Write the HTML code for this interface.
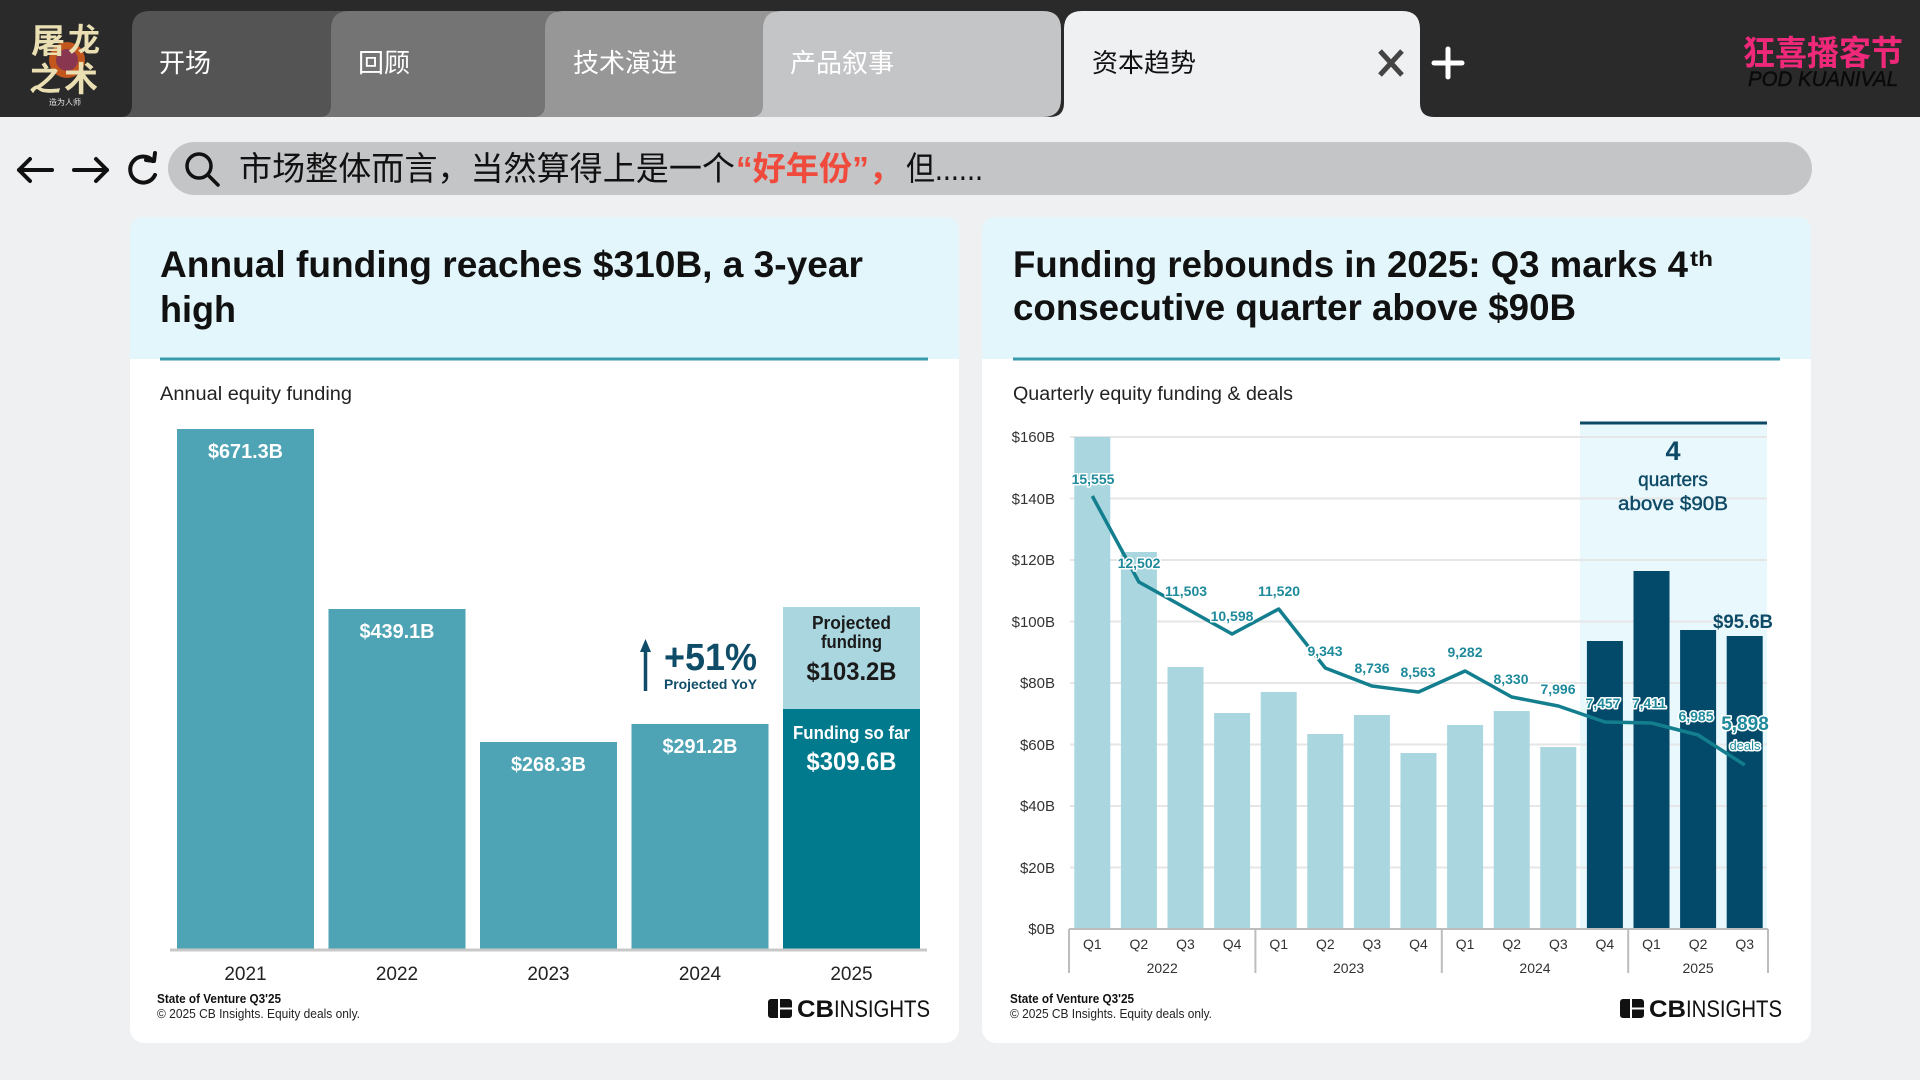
<!DOCTYPE html>
<html><head><meta charset="utf-8"><style>
html,body{margin:0;padding:0;background:#eff0f2;}
svg{display:block;}
text{font-family:"Liberation Sans","Noto Sans CJK SC",sans-serif;}
.cjk{font-family:"Liberation Sans","Noto Sans CJK SC",sans-serif;}
</style></head><body>
<svg width="1920" height="1080" viewBox="0 0 1920 1080" xmlns="http://www.w3.org/2000/svg">
<!-- backgrounds -->
<rect x="0" y="0" width="1920" height="1080" fill="#eff0f2"/>
<rect x="0" y="0" width="1920" height="117" fill="#2a2a2a"/>

<!-- left logo -->
<circle cx="67" cy="60" r="18" fill="#c2561c"/>
<circle cx="67" cy="60" r="11" fill="#7b2e5e" opacity="0.8"/>
<text x="31" y="53" font-size="34" font-weight="bold" fill="#e9dfb2" class="cjk">屠</text>
<text x="68" y="51" font-size="32" font-weight="bold" fill="#e9dfb2" class="cjk">龙</text>
<text x="29" y="90" font-size="32" font-weight="bold" fill="#e9dfb2" class="cjk">之</text>
<text x="64" y="91" font-size="34" font-weight="bold" fill="#e9dfb2" class="cjk">术</text>
<text x="65" y="105" font-size="8" fill="#e6e6e6" text-anchor="middle" class="cjk">造为人师</text>

<!-- tabs -->
<path d="M120,117 Q132,117 132,105 L132,29 Q132,11 150,11 L342,11 Q360,11 360,29 L360,117 Z" fill="#545454"/>
<path d="M319,117 Q331,117 331,105 L331,29 Q331,11 349,11 L552,11 Q570,11 570,29 L570,117 Z" fill="#747474"/>
<path d="M533,117 Q545,117 545,105 L545,29 Q545,11 563,11 L772,11 Q790,11 790,29 L790,117 Z" fill="#979797"/>
<path d="M751,117 Q763,117 763,105 L763,29 Q763,11 781,11 L1043,11 Q1061,11 1061,29 L1061,99 Q1061,117 1043,117 Z" fill="#c4c5c7"/>
<path d="M1050,117 Q1064,117 1064,103 L1064,29 Q1064,11 1082,11 L1402,11 Q1420,11 1420,29 L1420,103 Q1420,117 1434,117 Z" fill="#eff0f2"/>

<text x="159" y="72" font-size="26" fill="#ffffff" class="cjk">开场</text>
<text x="358" y="72" font-size="26" fill="#ffffff" class="cjk">回顾</text>
<text x="573" y="72" font-size="26" fill="#ffffff" class="cjk">技术演进</text>
<text x="790" y="72" font-size="26" fill="#ffffff" class="cjk">产品叙事</text>
<text x="1092" y="72" font-size="26" fill="#111111" class="cjk">资本趋势</text>

<!-- close & plus -->
<line x1="1380" y1="51" x2="1402" y2="75" stroke="#444" stroke-width="5"/>
<line x1="1402" y1="51" x2="1380" y2="75" stroke="#444" stroke-width="5"/>
<line x1="1448" y1="49" x2="1448" y2="77" stroke="#fff" stroke-width="5" stroke-linecap="round"/>
<line x1="1434" y1="63" x2="1462" y2="63" stroke="#fff" stroke-width="5" stroke-linecap="round"/>

<!-- right logo -->
<text x="1743" y="65" font-size="34" font-weight="bold" fill="#f0287a" textLength="160" lengthAdjust="spacingAndGlyphs" class="cjk">狂喜播客节</text>
<text x="1748" y="86" font-size="21" font-style="italic" fill="#0a0a0a" stroke="#0a0a0a" stroke-width="0.5" textLength="150" lengthAdjust="spacingAndGlyphs">POD KUANIVAL</text>

<!-- nav icons -->
<g stroke="#111" stroke-width="4" fill="none" stroke-linecap="round" stroke-linejoin="round">
  <line x1="19" y1="170" x2="52" y2="170"/>
  <polyline points="30,159 19,170 30,181"/>
  <line x1="74" y1="170" x2="107" y2="170"/>
  <polyline points="96,159 107,170 96,181"/>
  <path d="M153,161 A13,13 0 1 0 155,175"/>
  <polyline points="146,160 154,161 155,153"/>
</g>
<!-- address pill -->
<rect x="168" y="142" width="1644" height="53" rx="26.5" fill="#c4c5c7"/>
<circle cx="199" cy="166" r="12" fill="none" stroke="#111" stroke-width="3.5"/>
<line x1="208" y1="175" x2="218" y2="185" stroke="#111" stroke-width="3.5" stroke-linecap="round"/>
<text y="180" font-size="33" class="cjk">
  <tspan x="239" fill="#111" textLength="496" lengthAdjust="spacingAndGlyphs">市场整体而言，当然算得上是一个</tspan>
  <tspan x="736" fill="#f04a3c" font-weight="bold" textLength="166" lengthAdjust="spacingAndGlyphs">“好年份”，</tspan>
  <tspan x="906" fill="#111" textLength="77" lengthAdjust="spacingAndGlyphs">但......</tspan>
</text>

<!-- ============ LEFT CARD ============ -->
<rect x="130" y="217" width="829" height="826" rx="14" fill="#ffffff"/>
<path d="M130,359 L130,231 Q130,217 144,217 L945,217 Q959,217 959,231 L959,359 Z" fill="#e3f6fb"/>
<line x1="160" y1="359" x2="928" y2="359" stroke="#3a9bab" stroke-width="3"/>
<text x="160" y="277" font-size="37" font-weight="bold" fill="#111" textLength="703" lengthAdjust="spacingAndGlyphs">Annual funding reaches $310B, a 3-year</text>
<text x="160" y="322" font-size="37" font-weight="bold" fill="#111" textLength="76" lengthAdjust="spacingAndGlyphs">high</text>
<text x="160" y="400" font-size="19" fill="#222" textLength="192" lengthAdjust="spacingAndGlyphs">Annual equity funding</text>

<rect x="177" y="429" width="137" height="521" fill="#4ea3b4"/>
<rect x="328.5" y="609" width="137" height="341" fill="#4ea3b4"/>
<rect x="480" y="742" width="137" height="208" fill="#4ea3b4"/>
<rect x="631.5" y="724" width="137" height="226" fill="#4ea3b4"/>
<rect x="783" y="709" width="137" height="241" fill="#027a8d"/>
<rect x="783" y="607" width="137" height="102" fill="#a9d6df"/>
<line x1="170" y1="950" x2="927" y2="950" stroke="#c8c8c8" stroke-width="3"/>

<g font-weight="bold" fill="#ffffff" text-anchor="middle" font-size="20">
  <text x="245.5" y="458" textLength="75" lengthAdjust="spacingAndGlyphs">$671.3B</text>
  <text x="397" y="638" textLength="75" lengthAdjust="spacingAndGlyphs">$439.1B</text>
  <text x="548.5" y="771" textLength="75" lengthAdjust="spacingAndGlyphs">$268.3B</text>
  <text x="700" y="753" textLength="75" lengthAdjust="spacingAndGlyphs">$291.2B</text>
  <text x="851.5" y="739" font-size="18" textLength="117" lengthAdjust="spacingAndGlyphs">Funding so far</text>
  <text x="851.5" y="770" font-size="25" textLength="90" lengthAdjust="spacingAndGlyphs">$309.6B</text>
</g>
<g font-weight="bold" fill="#1a1a1a" text-anchor="middle">
  <text x="851.5" y="629" font-size="18" textLength="79" lengthAdjust="spacingAndGlyphs">Projected</text>
  <text x="851.5" y="648" font-size="18" textLength="61" lengthAdjust="spacingAndGlyphs">funding</text>
  <text x="851.5" y="680" font-size="25" textLength="90" lengthAdjust="spacingAndGlyphs">$103.2B</text>
</g>
<!-- +51% -->
<line x1="645.5" y1="648" x2="645.5" y2="691" stroke="#0f4c68" stroke-width="3.5"/>
<polygon points="645.5,639 640,652 651,652" fill="#0f4c68"/>
<text x="664" y="670" font-size="38" font-weight="bold" fill="#0f4c68" textLength="93" lengthAdjust="spacingAndGlyphs">+51%</text>
<text x="664" y="689" font-size="14" font-weight="bold" fill="#0f4c68" textLength="93" lengthAdjust="spacingAndGlyphs">Projected YoY</text>

<g font-size="19" fill="#222" text-anchor="middle">
  <text x="245.5" y="980">2021</text>
  <text x="397" y="980">2022</text>
  <text x="548.5" y="980">2023</text>
  <text x="700" y="980">2024</text>
  <text x="851.5" y="980">2025</text>
</g>
<text x="157" y="1003" font-size="12.5" font-weight="bold" fill="#111" textLength="124" lengthAdjust="spacingAndGlyphs">State of Venture Q3'25</text>
<text x="157" y="1018" font-size="12.5" fill="#222" textLength="203" lengthAdjust="spacingAndGlyphs">© 2025 CB Insights. Equity deals only.</text>
<g>
  <rect x="768" y="999" width="24" height="19" rx="3" fill="#111"/>
  <line x1="779" y1="999" x2="779" y2="1018" stroke="#fff" stroke-width="2"/>
  <line x1="779" y1="1008.5" x2="792" y2="1008.5" stroke="#fff" stroke-width="2"/>
  <text x="797" y="1017" font-size="24" font-weight="bold" fill="#111" textLength="37" lengthAdjust="spacingAndGlyphs">CB</text>
  <text x="834" y="1017" font-size="24" fill="#111" textLength="96" lengthAdjust="spacingAndGlyphs">INSIGHTS</text>
</g>

<!-- ============ RIGHT CARD ============ -->
<rect x="982" y="217" width="829" height="826" rx="14" fill="#ffffff"/>
<path d="M982,359 L982,231 Q982,217 996,217 L1797,217 Q1811,217 1811,231 L1811,359 Z" fill="#e3f6fb"/>
<line x1="1013" y1="359" x2="1780" y2="359" stroke="#3a9bab" stroke-width="3"/>
<text x="1013" y="277" font-size="37" font-weight="bold" fill="#111" textLength="675" lengthAdjust="spacingAndGlyphs">Funding rebounds in 2025: Q3 marks 4</text>
<text x="1690" y="266" font-size="21" font-weight="bold" fill="#111" textLength="23" lengthAdjust="spacingAndGlyphs">th</text>
<text x="1013" y="320" font-size="37" font-weight="bold" fill="#111" textLength="563" lengthAdjust="spacingAndGlyphs">consecutive quarter above $90B</text>
<text x="1013" y="400" font-size="19" fill="#222" textLength="280" lengthAdjust="spacingAndGlyphs">Quarterly equity funding &amp; deals</text>

<!-- highlight -->
<rect x="1580" y="423" width="187" height="506" fill="#e8f8fd"/>
<line x1="1580" y1="423" x2="1767" y2="423" stroke="#0e4a66" stroke-width="3"/>

<!-- gridlines -->
<g stroke="#e6e6e6" stroke-width="2">
  <line x1="1070" y1="437" x2="1767" y2="437"/>
  <line x1="1070" y1="498.5" x2="1767" y2="498.5"/>
  <line x1="1070" y1="560" x2="1767" y2="560"/>
  <line x1="1070" y1="621.5" x2="1767" y2="621.5"/>
  <line x1="1070" y1="683" x2="1767" y2="683"/>
  <line x1="1070" y1="744.5" x2="1767" y2="744.5"/>
  <line x1="1070" y1="806" x2="1767" y2="806"/>
  <line x1="1070" y1="867.5" x2="1767" y2="867.5"/>
</g>
<g font-size="15" fill="#333" text-anchor="end">
  <text x="1055" y="442">$160B</text>
  <text x="1055" y="504">$140B</text>
  <text x="1055" y="565">$120B</text>
  <text x="1055" y="627">$100B</text>
  <text x="1055" y="688">$80B</text>
  <text x="1055" y="750">$60B</text>
  <text x="1055" y="811">$40B</text>
  <text x="1055" y="873">$20B</text>
  <text x="1055" y="934">$0B</text>
</g>

<!-- bars -->
<g fill="#a9d6df">
  <rect x="1074.3" y="437" width="36" height="492"/>
  <rect x="1120.9" y="552" width="36" height="377"/>
  <rect x="1167.5" y="667" width="36" height="262"/>
  <rect x="1214.1" y="713" width="36" height="216"/>
  <rect x="1260.7" y="692" width="36" height="237"/>
  <rect x="1307.3" y="734" width="36" height="195"/>
  <rect x="1353.9" y="715" width="36" height="214"/>
  <rect x="1400.5" y="753" width="36" height="176"/>
  <rect x="1447.1" y="725" width="36" height="204"/>
  <rect x="1493.7" y="711" width="36" height="218"/>
  <rect x="1540.3" y="747" width="36" height="182"/>
</g>
<g fill="#02496a">
  <rect x="1586.9" y="641" width="36" height="288"/>
  <rect x="1633.5" y="571" width="36" height="358"/>
  <rect x="1680.1" y="630" width="36" height="299"/>
  <rect x="1726.7" y="636" width="36" height="293"/>
</g>

<!-- axis -->
<g stroke="#bdbdbd" stroke-width="2">
  <line x1="1069" y1="929" x2="1768" y2="929"/>
  <line x1="1069" y1="929" x2="1069" y2="973"/>
  <line x1="1255.4" y1="929" x2="1255.4" y2="973"/>
  <line x1="1441.8" y1="929" x2="1441.8" y2="973"/>
  <line x1="1628.2" y1="929" x2="1628.2" y2="973"/>
  <line x1="1768" y1="929" x2="1768" y2="973"/>
</g>
<g font-size="14" fill="#333" text-anchor="middle">
  <text x="1092.3" y="949">Q1</text>
  <text x="1138.9" y="949">Q2</text>
  <text x="1185.5" y="949">Q3</text>
  <text x="1232.1" y="949">Q4</text>
  <text x="1278.7" y="949">Q1</text>
  <text x="1325.3" y="949">Q2</text>
  <text x="1371.9" y="949">Q3</text>
  <text x="1418.5" y="949">Q4</text>
  <text x="1465.1" y="949">Q1</text>
  <text x="1511.7" y="949">Q2</text>
  <text x="1558.3" y="949">Q3</text>
  <text x="1604.9" y="949">Q4</text>
  <text x="1651.5" y="949">Q1</text>
  <text x="1698.1" y="949">Q2</text>
  <text x="1744.7" y="949">Q3</text>
  <text x="1162.2" y="973">2022</text>
  <text x="1348.6" y="973">2023</text>
  <text x="1535" y="973">2024</text>
  <text x="1698.1" y="973">2025</text>
</g>

<!-- deals line -->
<polyline fill="none" stroke="#137f8e" stroke-width="3.5" stroke-linejoin="round"
  points="1092.3,496 1138.9,582 1185.5,608 1232.1,634 1278.7,609 1325.3,668 1371.9,686 1418.5,692 1465.1,671 1511.7,697 1558.3,706 1604.9,722 1651.5,723 1698.1,735 1744.7,765"/>

<g font-size="14" font-weight="bold" fill="#1f8a9b" text-anchor="middle" stroke="#ffffff" stroke-width="3" paint-order="stroke" stroke-linejoin="round">
  <text x="1093" y="484">15,555</text>
  <text x="1139" y="568">12,502</text>
  <text x="1186" y="596">11,503</text>
  <text x="1232" y="621">10,598</text>
  <text x="1279" y="596">11,520</text>
  <text x="1325" y="656">9,343</text>
  <text x="1372" y="673">8,736</text>
  <text x="1418" y="677">8,563</text>
  <text x="1465" y="657">9,282</text>
  <text x="1511" y="684">8,330</text>
  <text x="1558" y="694">7,996</text>
  <text x="1603" y="708">7,457</text>
  <text x="1649" y="708">7,411</text>
  <text x="1696" y="721">6,985</text>
  <text x="1745" y="730" font-size="19">5,898</text>
  <text x="1745" y="750" font-size="13" font-weight="normal">deals</text>
</g>

<!-- highlight texts -->
<g fill="#0e4a66" text-anchor="middle">
  <text x="1673" y="460" font-size="27" font-weight="bold">4</text>
  <text x="1673" y="486" font-size="19" stroke="#0e4a66" stroke-width="0.4">quarters</text>
  <text x="1673" y="510" font-size="19" stroke="#0e4a66" stroke-width="0.4" textLength="110" lengthAdjust="spacingAndGlyphs">above $90B</text>
  <text x="1743" y="628" font-size="19.5" font-weight="bold" textLength="60" lengthAdjust="spacingAndGlyphs">$95.6B</text>
</g>

<text x="1010" y="1003" font-size="12.5" font-weight="bold" fill="#111" textLength="124" lengthAdjust="spacingAndGlyphs">State of Venture Q3'25</text>
<text x="1010" y="1018" font-size="12.5" fill="#222" textLength="202" lengthAdjust="spacingAndGlyphs">© 2025 CB Insights. Equity deals only.</text>
<g>
  <rect x="1620" y="999" width="24" height="19" rx="3" fill="#111"/>
  <line x1="1631" y1="999" x2="1631" y2="1018" stroke="#fff" stroke-width="2"/>
  <line x1="1631" y1="1008.5" x2="1644" y2="1008.5" stroke="#fff" stroke-width="2"/>
  <text x="1649" y="1017" font-size="24" font-weight="bold" fill="#111" textLength="37" lengthAdjust="spacingAndGlyphs">CB</text>
  <text x="1686" y="1017" font-size="24" fill="#111" textLength="96" lengthAdjust="spacingAndGlyphs">INSIGHTS</text>
</g>
</svg>
</body></html>
